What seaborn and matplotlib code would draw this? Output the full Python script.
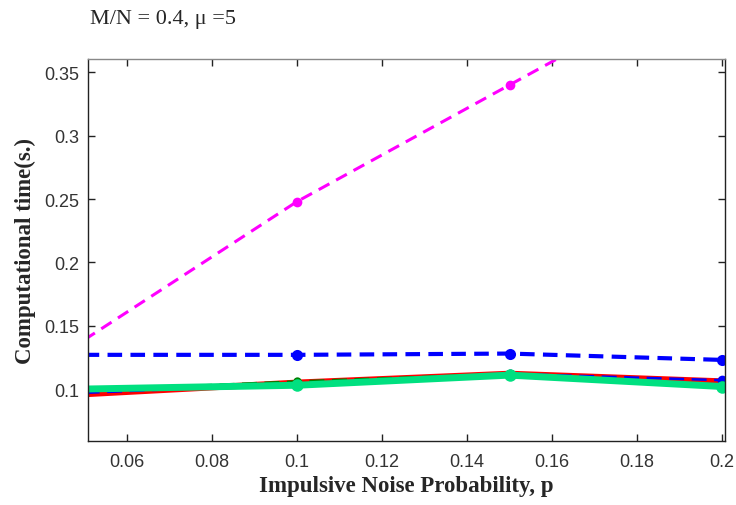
import matplotlib
matplotlib.use('Agg')
import matplotlib.pyplot as plt
import seaborn as sns
import numpy as np

# Probabilidade de ruido impulsivo
p = [0.05, 0.10, 0.15, 0.20]

# tempos computacionais
t_magenta = [0.139, 0.248, 0.340, 0.432]
t_blue_dash = [0.127, 0.127, 0.128, 0.123]
t_red = [0.096, 0.105, 0.112, 0.106]
t_blue = [0.097, 0.104, 0.112, 0.107]
t_dkgreen = [0.099, 0.106, 0.112, 0.103]
t_green = [0.100, 0.103, 0.111, 0.102]

yticks = [0.1, 0.15, 0.2, 0.25, 0.3, 0.35]
xticks = [0.06, 0.08, 0.1, 0.12, 0.14, 0.16, 0.18, 0.2]

sns.set_style('ticks')
plt.rcParams['font.family'] = ['Liberation Serif', 'DejaVu Serif']

fig = plt.figure(figsize=(7.36, 5.06), dpi=100)
ax = fig.add_axes([0.1196, 0.1265, 0.8654, 0.7549])

mk = [1, 2, 3]
sns.lineplot(x=p, y=t_magenta, ax=ax, color='#ff00ff', lw=2.2,
             linestyle=(0, (4, 2.5)), marker='o', markersize=7, markevery=mk,
             markeredgewidth=0)
sns.lineplot(x=p, y=t_blue_dash, ax=ax, color='#0000ff', lw=3,
             linestyle=(0, (3.5, 2)), marker='o', markersize=8, markevery=mk,
             markeredgewidth=0)
sns.lineplot(x=p, y=t_red, ax=ax, color='#ff0000', lw=4.5, marker='o',
             markersize=7, markevery=mk, markeredgewidth=0)
sns.lineplot(x=p, y=t_blue, ax=ax, color='#0000ff', lw=1.8,
             linestyle=(0, (6, 3)), marker='o', markersize=7, markevery=mk,
             markeredgewidth=0)
sns.lineplot(x=p, y=t_dkgreen, ax=ax, color='#008000', lw=1.8,
             linestyle=(0, (6, 3)), marker='o', markersize=6, markevery=mk,
             markeredgewidth=0)
sns.lineplot(x=p, y=t_green, ax=ax, color='#00e080', lw=5, marker='o',
             markersize=9, markevery=mk, markeredgewidth=0)

ax.set_xlim(0.0508, 0.2007)
ax.set_ylim(0.059, 0.3605)
ax.set_xticks(xticks)
ax.set_xticklabels(['0.06', '0.08', '0.1', '0.12', '0.14', '0.16', '0.18', '0.2'])
ax.set_yticks(yticks)
ax.set_yticklabels(['0.1', '0.15', '0.2', '0.25', '0.3', '0.35'])
ax.tick_params(direction='in', length=5, width=1, top=True, right=True,
               labelsize=13, colors='#222222')
ax.tick_params(axis='x', pad=9)
ax.tick_params(axis='y', pad=6)
for lab in ax.get_xticklabels() + ax.get_yticklabels():
    lab.set_family(['Liberation Sans Narrow', 'Liberation Sans'])
    lab.set_color('#333333')
for s in ax.spines.values():
    s.set_visible(True)
    s.set_color('#222222')
    s.set_linewidth(1)
ax.spines['top'].set_color('#888888')

ax.set_xlabel('Impulsive Noise Probability, p', fontsize=16.5,
              fontweight='bold', labelpad=3)
ax.set_ylabel('Computational time(s.)', fontsize=16.5, fontweight='bold',
              labelpad=6)

fig.text(0.122, 0.962, 'M/N = 0.4, μ =5', fontsize=16, va='center')

fig.savefig('out.png', dpi=100)
